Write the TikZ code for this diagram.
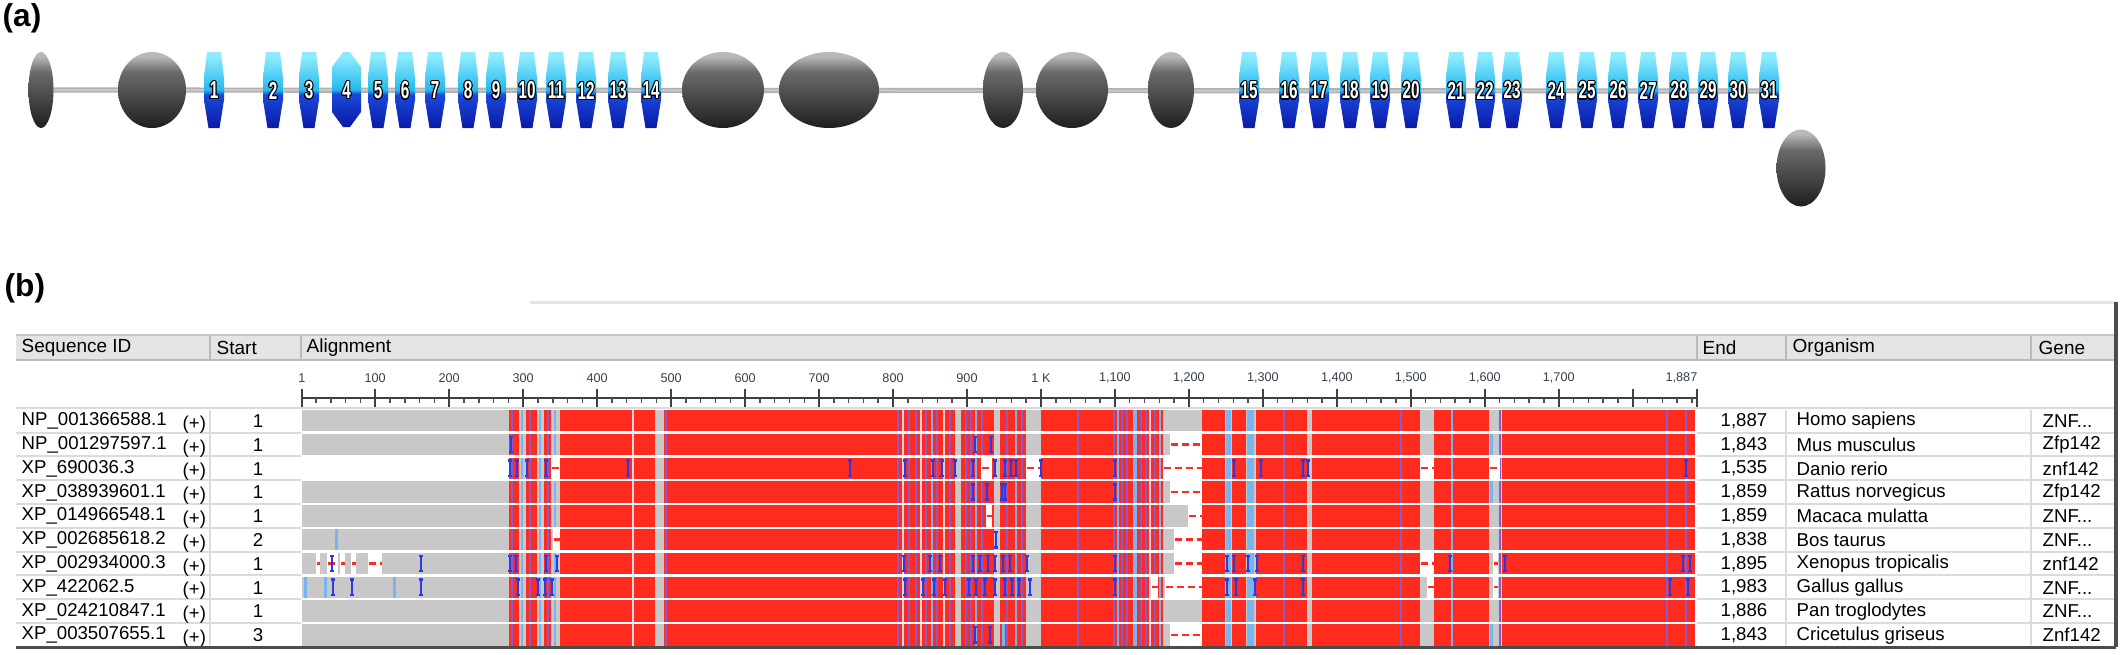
\documentclass[tikz,border=0pt]{standalone}
\usepackage{fontspec}
\setmainfont{Liberation Sans}
\newfontfamily\domfont[FakeStretch=0.62]{Liberation Sans}
\usepackage{contour}
\contourlength{0.3pt}
\usetikzlibrary{shapes.geometric,backgrounds}

\definecolor{alnred}{HTML}{FF2B1E}
\definecolor{alngray}{HTML}{C8C8C8}
\definecolor{ltblue}{HTML}{78B4EE}
\definecolor{ibblue}{HTML}{2A3AE6}
\definecolor{stripeb}{HTML}{8A5AC8}
\definecolor{stripew}{HTML}{E2D2DA}
\definecolor{hdrgray}{HTML}{E4E4E4}
\definecolor{rulnum}{HTML}{36404E}
\definecolor{zftop}{HTML}{8EEBFF}
\definecolor{zfcyan}{HTML}{22B8EC}
\definecolor{zfblue}{HTML}{1A48DA}
\definecolor{zfdeep}{HTML}{0A1AA8}

\pgfdeclareverticalshading{zfshade}{100bp}{color(0bp)=(zfdeep); color(25bp)=(zfdeep); color(47bp)=(zfblue); color(50bp)=(zfcyan); color(72bp)=(zftop); color(100bp)=(zftop)}
\pgfdeclareverticalshading{blobshade}{100bp}{color(0bp)=(black!90); color(25bp)=(black!88); color(45bp)=(black!72); color(62bp)=(black!58); color(72bp)=(black!28); color(100bp)=(black!20)}

\tikzset{
  blob/.style={ellipse, shade, shading=blobshade, minimum height=7.6mm, inner sep=0},
  dnum/.style={text=white, inner sep=0, font=\domfont\bfseries\fontsize{7}{7}\selectfont},
  backbone/.style={draw=gray!62, double=gray!42, double distance=0.2mm, line width=0.16mm},
  panel/.style={font=\bfseries\fontsize{9}{10}\selectfont, inner sep=0, anchor=west},
  hdtxt/.style={font=\fontsize{5.4}{6}\selectfont, inner sep=0, anchor=west},
  rowtxt/.style={font=\fontsize{5.3}{6}\selectfont, inner sep=0},
  rulnumtxt/.style={font=\fontsize{3.6}{4}\selectfont, text=rulnum, inner sep=0},
  hdrline/.style={draw=gray!55, line width=0.2mm},
  sepline/.style={draw=black!14, line width=0.2mm},
  ibar/.style={draw=ibblue, line width=0.25mm},
  gapdash/.style={draw=alnred, line width=0.25mm, dash pattern=on 0.7mm off 0.4mm}
}

\begin{document}
\begin{tikzpicture}[x=0.1mm,y=-0.1mm]
\useasboundingbox (0,0) rectangle (2128,654);

% (a) domain architecture
\node[panel] (pa) at (2,18) {(a)};

\node[blob, minimum width=2.5mm] (e1) at (41,90) {};
\node[blob, minimum width=6.8mm] (e2) at (152,90) {};
\node[blob, minimum width=8.2mm] (e3) at (723,90) {};
\node[blob, minimum width=10mm] (e4) at (829,90) {};
\node[blob, minimum width=4mm] (e5) at (1003,90) {};
\node[blob, minimum width=7.2mm] (e6) at (1072,90) {};
\node[blob, minimum width=4.6mm] (e7) at (1171,90) {};
\node[blob, minimum width=4.9mm, minimum height=7.7mm] (e8) at (1801,168) {};

\foreach \n/\x in {1/214,2/273,3/309,5/378,6/405,7/435,8/468,9/496,10/527,11/556,12/586,13/618,14/651,
  15/1249,16/1289,17/1319,18/1350,19/1380,20/1411,21/1456,22/1485,23/1512,
  24/1556,25/1587,26/1618,27/1648,28/1679,29/1708,30/1738,31/1769}{
  \shade[shading=zfshade] (\x-7,52) -- (\x+7,52) -- (\x+10,78) -- (\x+10,100) -- (\x+5.5,128)
    -- (\x-5.5,128) -- (\x-10,100) -- (\x-10,78) -- cycle;
  \node[dnum] (d\n) at (\x,91) {\contour{black}{\n}};
}
\shade[shading=zfshade] (343,52) -- (350,52) -- (361,67) -- (361,112) -- (350,127) -- (343,127)
  -- (332,112) -- (332,67) -- cycle;
\node[dnum] (d4) at (346.5,91) {\contour{black}{4}};

\begin{scope}[on background layer]
\fill[white] (0,0) rectangle (2128,654);
\draw[backbone] (e1.center) -- (d31.center);
\end{scope}

% (b) alignment table
\node[panel] (pb) at (4,288) {(b)};

\draw[black!10, line width=0.3mm] (530,302) -- (2116,302);
\fill[hdrgray] (16,335) rectangle (2114,360);
\draw[black!22, line width=0.15mm] (16,335) -- (2114,335);
\draw[hdrline] (16,360) -- (2114,360);
\foreach \x in {210,301,1697,1786,2031} \draw[hdrline] (\x,336) -- (\x,360);

\node[hdtxt] (hsid) at (21,348) {Sequence ID};
\node[hdtxt] (hst) at (216,348) {Start};
\node[hdtxt] (hal) at (306,348) {Alignment};
\node[hdtxt] (hend) at (1702,348) {End};
\node[hdtxt] (horg) at (1792,348) {Organism};
\node[hdtxt] (hgen) at (2038,348) {Gene};

% ruler
\draw[black!75, line width=0.2mm] (302,398) -- (1697,398);
\foreach \n in {20,40,...,1880} \draw[black!70, line width=0.15mm] ({302+0.7397*(\n-1)},398) -- ++(0,4.5);
\foreach \n in {1,100,200,...,1800,1887} \draw[black!75, line width=0.2mm] ({302+0.7397*(\n-1)},389) -- ++(0,18);
\foreach \n/\t in {1/1,100/100,200/200,300/300,400/400,500/500,600/600,700/700,800/800,900/900,1000/1 K,
  1100/{1,100},1200/{1,200},1300/{1,300},1400/{1,400},1500/{1,500},1600/{1,600},1700/{1,700}}
  \node[rulnumtxt] (r\n) at ({302+0.7397*(\n-1)},378) {\t};
\node[rulnumtxt, anchor=east] (r1887) at (1698,378) {1,887};
\draw[sepline] (16,408) -- (2114,408);

% alignment bars
\fill[alngray] (302,410) rectangle (1695,645.5);
\fill[white] (302,457.6) rectangle (509,478.9);
\foreach \a/\b in {509/519,526/537,544/551,560/1026,1041/1163,1202/1225,1232/1246,1256/1307,1312/1420,1434/1489,1502/1695}
  \fill[alnred] (\a,410) rectangle (\b,645.5);
\foreach \a/\b in {655/664,955/961,994/1000}
  \fill[alngray] (\a,410) rectangle (\b,645.5);
\foreach \a/\b in {1226/1231,1247/1254}
  \fill[ltblue] (\a,410) rectangle (\b,645.5);
\foreach \x/\c in {512/stripeb,530/stripeb,548/stripeb,666/stripeb,898/stripeb,909/stripeb,916/stripeb,926/stripeb,
  937/stripeb,950/stripeb,966/stripeb,971/stripeb,982/stripeb,1007/stripeb,1022/stripeb,1078/stripeb,1114/stripeb,
  1122/stripeb,1127/stripeb,1141/stripeb,1146/stripeb,1155/stripeb,1284/stripeb,1401/stripeb,1500/stripeb,
  1667/stripeb,1686/stripeb,522/ltblue,540/ltblue,555/ltblue,932/ltblue,976/ltblue,1016/ltblue,1118/ltblue,
  1134/ltblue,1136/ltblue,1160/ltblue,1452/ltblue,633/stripew,903/stripew,921/stripew,944/stripew,1150/stripew}
  \fill[\c] (\x-1,410) rectangle (\x+1,645.5);

% gaps
\foreach \r/\gs in {2/{1170/1202},3/{551/560,981/992,1026/1041,1163/1202,1420/1434,1489/1500},4/{1170/1202},
  5/{986/992,1188/1202},6/{553/560,1174/1202},7/{316/320,327/338,340/345,351/356,368/382,1174/1202,1420/1434,1493/1498},
  8/{1151/1158,1165/1202,1427/1434,1493/1498},10/{1170/1202}}{
  \pgfmathsetmacro\rt{410+(\r-1)*23.8}
  \foreach \a/\b in \gs {
    \fill[white] (\a,\rt) rectangle (\b,\rt+21.3);
    \draw[gapdash] (\a+0.5,\rt+10.6) -- (\b-0.5,\rt+10.6);
  }
}
\foreach \r/\xs in {2/{1491},4/{1491},6/{336},8/{305,325,394},10/{1003,1491}}{
  \pgfmathsetmacro\rt{410+(\r-1)*23.8}
  \foreach \x in \xs \fill[ltblue] (\x-1.5,\rt) rectangle (\x+1.5,\rt+21.3);
}
\foreach \r/\xs in {2/{511,975,991},
  3/{510,517,527,546,628,850,905,933,942,955,973,995,1005,1011,1016,1041,1115,1234,1261,1303,1308,1686},
  4/{973,987,1002,1005,1115},6/{996},
  7/{332,421,510,516,546,557,904,930,940,973,980,988,995,1003,1010,1027,1115,1227,1234,1248,1257,1303,1450,1505,1683,1690},
  8/{333,352,421,518,538,545,552,905,923,934,945,969,976,985,995,1005,1012,1019,1030,1115,1227,1236,1255,1303,1670,1688},
  10/{975,990}}{
  \pgfmathsetmacro\rt{410+(\r-1)*23.8}
  \foreach \x in \xs
    \draw[ibar] (\x-1.8,\rt+3) -- (\x+1.8,\rt+3) (\x,\rt+3) -- (\x,\rt+18.3) (\x-1.8,\rt+18.3) -- (\x+1.8,\rt+18.3);
}
\foreach \k in {1,...,9} \fill[white] (302,{410+\k*23.8-2.5}) rectangle (1697,{410+\k*23.8});

% row text
\foreach \k in {1,...,9} {
  \draw[sepline] (16,{410+\k*23.8-1.2}) -- (301,{410+\k*23.8-1.2});
  \draw[sepline] (1697,{410+\k*23.8-1.2}) -- (2114,{410+\k*23.8-1.2});
}
\foreach \x in {210,1786,2031} \draw[sepline] (\x,410) -- (\x,645);
\foreach [evaluate=\r as \ry using 421+(\r-1)*23.8] \r/\sid/\st/\en/\org/\gen in {
  1/NP\_001366588.1/1/{1,887}/Homo sapiens/ZNF.{}.{}.,
  2/NP\_001297597.1/1/{1,843}/Mus musculus/Zfp142,
  3/XP\_690036.3/1/{1,535}/Danio rerio/znf142,
  4/XP\_038939601.1/1/{1,859}/Rattus norvegicus/Zfp142,
  5/XP\_014966548.1/1/{1,859}/Macaca mulatta/ZNF.{}.{}.,
  6/XP\_002685618.2/2/{1,838}/Bos taurus/ZNF.{}.{}.,
  7/XP\_002934000.3/1/{1,895}/Xenopus tropicalis/znf142,
  8/XP\_422062.5/1/{1,983}/Gallus gallus/ZNF.{}.{}.,
  9/XP\_024210847.1/1/{1,886}/Pan troglodytes/ZNF.{}.{}.,
  10/XP\_003507655.1/3/{1,843}/Cricetulus griseus/Znf142}{
  \node[rowtxt, anchor=west] (sid\r) at (21,\ry) {\sid};
  \node[rowtxt, anchor=west] (pl\r) at (182,\ry+3.5) {(+)};
  \node[rowtxt, anchor=east] (st\r) at (264,\ry) {\st};
  \node[rowtxt, anchor=east] (en\r) at (1768,\ry) {\en};
  \node[rowtxt, anchor=west] (org\r) at (1796,\ry) {\org};
  \node[rowtxt, anchor=west] (gen\r) at (2042,\ry) {\gen};
}

\draw[black!70, line width=0.3mm] (16,647) -- (2116,647);
\draw[black!70, line width=0.4mm] (2116,302) -- (2116,647);
\end{tikzpicture}
\end{document}
